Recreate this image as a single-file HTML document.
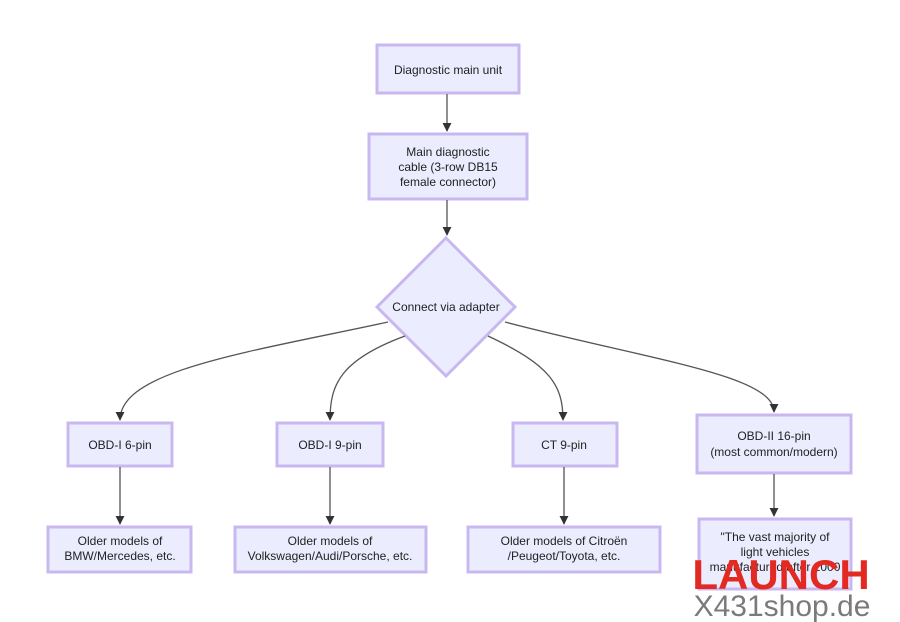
<!DOCTYPE html>
<html><head><meta charset="utf-8"><style>
html,body{margin:0;padding:0;background:#fff;width:900px;height:622px;overflow:hidden}
svg text{font-family:"Liberation Sans","DejaVu Sans",sans-serif;font-size:12px;fill:#222;text-anchor:middle}
.b{fill:#ECECFF;stroke:#C9B8F0;stroke-width:3}
.e{fill:none;stroke:#555;stroke-width:1.3}
</style></head><body>
<svg width="900" height="622" xmlns="http://www.w3.org/2000/svg">
<defs><marker id="a" viewBox="0 0 10 10" refX="9" refY="5" markerWidth="7" markerHeight="7" orient="auto"><path d="M0,0L10,5L0,10z" fill="#333"/></marker></defs>
<rect class="b" x="377" y="45" width="142" height="48"/>
<text x="448" y="74">Diagnostic main unit</text>
<path class="e" d="M447,94V131" marker-end="url(#a)"/>
<rect class="b" x="369" y="134" width="158" height="65"/>
<text x="448" y="156">Main diagnostic</text>
<text x="448" y="171">cable (3-row DB15</text>
<text x="448" y="186">female connector)</text>
<path class="e" d="M447,200V235" marker-end="url(#a)"/>
<path class="b" d="M446,238L515,307L446,376L377,307Z"/>
<text x="446" y="311">Connect via adapter</text>
<path class="e" d="M388,322C250,352 120,370 120,420" marker-end="url(#a)"/>
<path class="e" d="M405,336C340,360 330,385 330,420" marker-end="url(#a)"/>
<path class="e" d="M488,336C550,365 563,385 563,420" marker-end="url(#a)"/>
<path class="e" d="M505,322C650,360 774,375 774,412" marker-end="url(#a)"/>
<rect class="b" x="68" y="423" width="104" height="43"/><text x="120" y="449">OBD-I 6-pin</text>
<rect class="b" x="277" y="423" width="106" height="43"/><text x="330" y="449">OBD-I 9-pin</text>
<rect class="b" x="513" y="423" width="104" height="43"/><text x="564" y="449">CT 9-pin</text>
<rect class="b" x="697" y="415" width="154" height="58"/><text x="774" y="440">OBD-II 16-pin</text><text x="774" y="456">(most common/modern)</text>
<path class="e" d="M120,467V524" marker-end="url(#a)"/>
<path class="e" d="M330,467V524" marker-end="url(#a)"/>
<path class="e" d="M564,467V524" marker-end="url(#a)"/>
<path class="e" d="M774,474V516" marker-end="url(#a)"/>
<rect class="b" x="48" y="527" width="143" height="45"/><text x="120" y="545">Older models of</text><text x="120" y="560">BMW/Mercedes, etc.</text>
<rect class="b" x="235" y="527" width="191" height="45"/><text x="330" y="545">Older models of</text><text x="330" y="560">Volkswagen/Audi/Porsche, etc.</text>
<rect class="b" x="468" y="527" width="192" height="45"/><text x="564" y="545">Older models of Citroën</text><text x="564" y="560">/Peugeot/Toyota, etc.</text>
<rect class="b" x="699" y="519" width="152" height="70"/><text x="775" y="541">"The vast majority of</text><text x="775" y="556">light vehicles</text><text x="775" y="571">manufactured after 2000</text>
<text x="781" y="589" style="font-size:42px;font-weight:bold;fill:#E32A22">LAUNCH</text>
<text x="782" y="616" style="font-size:30px;fill:#7a7a7a">X431shop.de</text>
</svg>
</body></html>
